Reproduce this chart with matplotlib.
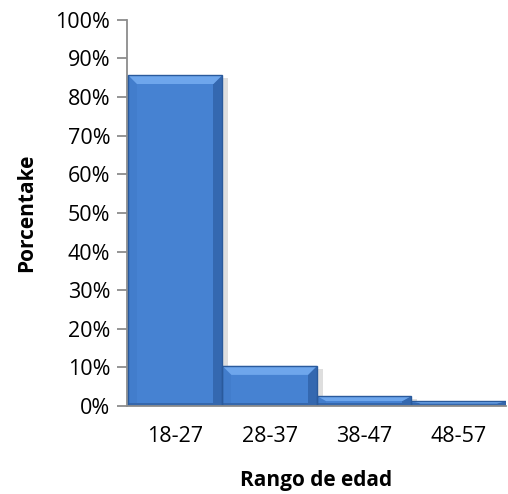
import numpy as np
import matplotlib
matplotlib.use("Agg")
import matplotlib.pyplot as plt
from matplotlib.patches import Polygon
from matplotlib.ticker import PercentFormatter
import matplotlib.patheffects as pe

rangos = ["18-27", "28-37", "38-47", "48-57"]
porcentajes = [85.7, 10.4, 2.6, 1.3]

plt.rcParams["font.family"] = ["Open Sans", "DejaVu Sans"]

fig = plt.figure(figsize=(5.08, 4.94), dpi=100)
ax = fig.add_axes([0.25, 0.178, 0.746, 0.782])

x = np.arange(len(rangos))
bars = ax.bar(x, porcentajes, width=1.0, color="#4682D2", edgecolor="none", zorder=2,
              path_effects=[pe.SimplePatchShadow(offset=(4, -2), shadow_rgbFace="#000000", alpha=0.13),
                            pe.Normal()])

ax.set_xlim(-0.51, 3.5)
ax.set_ylim(0, 100)
ax.set_yticks(np.arange(0, 101, 10))
ax.yaxis.set_major_formatter(PercentFormatter(decimals=0))
ax.set_xticks(x)
ax.set_xticklabels(rangos)

# bisel de cada barra (tamano en pixeles pasado a unidades de datos)
px_x = (ax.get_xlim()[1] - ax.get_xlim()[0]) / (0.746 * 508)
px_y = 100 / (0.782 * 494)
for b in bars:
    x0, w, h = b.get_x(), b.get_width(), b.get_height()
    x1 = x0 + w
    dx = 9 * px_x
    dy = min(9 * px_y, h * 0.5)
    left = Polygon([(x0, h), (x0, 0), (x0 + dx, 0), (x0 + dx, h - dy)],
                   closed=True, facecolor="#427DCC", edgecolor="none", zorder=3)
    right = Polygon([(x1, h), (x1, 0), (x1 - dx, 0), (x1 - dx, h - dy)],
                    closed=True, facecolor="#3468B0", edgecolor="none", zorder=3)
    top = Polygon([(x0, h), (x1, h), (x1 - dx, h - dy), (x0 + dx, h - dy)],
                  closed=True, facecolor="#6EA6EC", edgecolor="none", zorder=3)
    bottom = Polygon([(x0, 0), (x1, 0), (x1, 3 * px_y), (x0, 3 * px_y)],
                     closed=True, facecolor="#3567AC", edgecolor="none", zorder=3)
    for p in (left, right, bottom, top):
        ax.add_patch(p)
    ax.add_patch(Polygon([(x0, h), (x1, h), (x1, 0), (x0, 0)], closed=True,
                         facecolor="none", edgecolor="#2A5A9C", linewidth=1.0, zorder=4))

for s in ("top", "right"):
    ax.spines[s].set_visible(False)
for s in ("left", "bottom"):
    ax.spines[s].set_color("#8C8C8C")
    ax.spines[s].set_linewidth(1.3)
ax.spines["bottom"].set_zorder(5)
ax.tick_params(axis="y", length=7, width=1.3, color="#8C8C8C", labelsize=15.5, pad=5, labelcolor="#000000")
ax.tick_params(axis="x", length=0, labelsize=15.5, pad=14, labelcolor="#000000")

ax.set_ylabel("Porcentake", fontsize=15, fontweight="bold", labelpad=13)
ax.set_xlabel("Rango de edad", fontsize=15, fontweight="bold", labelpad=17)

fig.savefig("out.png", dpi=100)
